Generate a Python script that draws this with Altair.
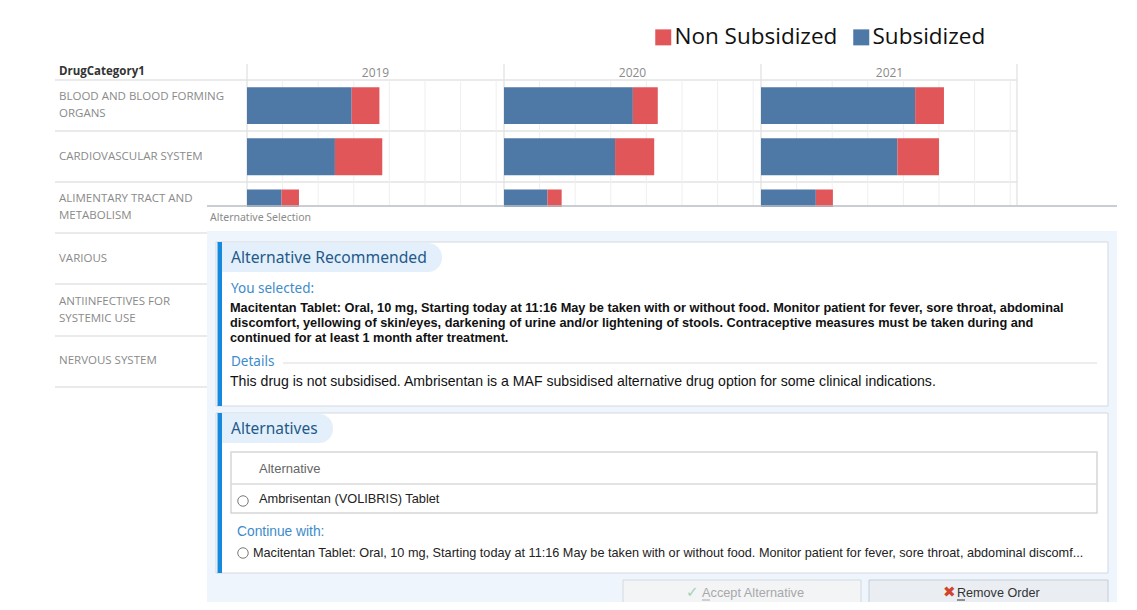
import altair as alt
import pandas as pd

# ---------------- data ----------------
categories = [
    "BLOOD AND BLOOD FORMING ORGANS",
    "CARDIOVASCULAR SYSTEM",
    "ALIMENTARY TRACT AND METABOLISM",
    "VARIOUS",
    "ANTIINFECTIVES FOR SYSTEMIC USE",
    "NERVOUS SYSTEM",
]
category_labels = [
    "BLOOD AND BLOOD FORMING\nORGANS",
    "CARDIOVASCULAR SYSTEM",
    "ALIMENTARY TRACT AND\nMETABOLISM",
    "VARIOUS",
    "ANTIINFECTIVES FOR\nSYSTEMIC USE",
    "NERVOUS SYSTEM",
]
years = ["2019", "2020", "2021"]
visible_categories = categories[:3]
subsidized_2019 = [1470, 1235, 485]
non_subsidized_2019 = [390, 665, 245]
subsidized_2020 = [1810, 1560, 610]
non_subsidized_2020 = [350, 550, 200]
subsidized_2021 = [2165, 1915, 770]
non_subsidized_2021 = [405, 585, 240]
grid_ticks = [500, 1000, 1500, 2000, 2500, 3000, 3500]
series = ["Non Subsidized", "Subsidized"]

sub = {"2019": subsidized_2019, "2020": subsidized_2020, "2021": subsidized_2021}
non = {"2019": non_subsidized_2019, "2020": non_subsidized_2020, "2021": non_subsidized_2021}
rows = []
for yr in years:
    for c, s, n in zip(visible_categories, sub[yr], non[yr]):
        rows.append({"year": yr, "cat": c, "type": "Subsidized", "value": s, "ord": 0})
        rows.append({"year": yr, "cat": c, "type": "Non Subsidized", "value": n, "ord": 1})
df = pd.DataFrame(rows)
labels_df = pd.DataFrame({"cat": categories, "label": category_labels})
ticks_df = pd.DataFrame({"t": grid_ticks})
one = pd.DataFrame({"k": [0]})

# ---------------- layout helpers ----------------
O = 8  # page margin
W, H = 1121, 594
NARROW = "Liberation Sans Narrow, Arial Narrow, Liberation Sans, sans-serif"
UI = "Noto Sans, Open Sans, sans-serif"
CHART_FONT = "Open Sans, Noto Sans, sans-serif"

yscale = alt.Scale(domain=categories, range=[80 - O, 387 - O], paddingInner=0.28, paddingOuter=0.14)
color_scale = alt.Scale(domain=series, range=["#e15759", "#4e79a7"])
panels = {"2019": (247, 504), "2020": (504, 761), "2021": (761, 1018)}
XMAX = 3610


def rect(x1, y1, x2, y2, fill, stroke=None, sw=1, **kw):
    props = dict(fill=fill)
    if stroke:
        props.update(stroke=stroke, strokeWidth=sw)
    props.update(kw)
    return alt.Chart(one).mark_rect(**props).encode(
        x=alt.value(x1 - O), x2=alt.value(x2 - O), y=alt.value(y1 - O), y2=alt.value(y2 - O)
    )


def hline(x1, x2, y, color, w=1):
    return alt.Chart(one).mark_rule(color=color, strokeWidth=w).encode(
        x=alt.value(x1 - O), x2=alt.value(x2 - O), y=alt.value(y - O)
    )


def vline(x, y1, y2, color, w=1):
    return alt.Chart(one).mark_rule(color=color, strokeWidth=w).encode(
        x=alt.value(x - O), y=alt.value(y1 - O), y2=alt.value(y2 - O)
    )


def text(s, x, y, size, color, font=NARROW, weight="normal", align="left"):
    return alt.Chart(one).mark_text(
        text=s, align=align, baseline="middle", fontSize=size, color=color, font=font, fontWeight=weight
    ).encode(x=alt.value(x - O), y=alt.value(y - O))


def radio(x, y):
    return alt.Chart(one).mark_point(
        shape="circle", filled=False, stroke="#7a7a7a", strokeWidth=1, size=110, opacity=1
    ).encode(x=alt.value(x - O), y=alt.value(y - O))


layers = [rect(O - 3, O - 3, W + O + 3, H + O + 3, "#ffffff")]

# ---------------- chart background structure ----------------
for yv in [80, 131, 182, 233, 284, 336, 387]:
    layers.append(hline(55, 1017, yv, "#e3e3e3", 1.5))

for yr in years:
    x0, x1 = panels[yr]
    xs = alt.Scale(domain=[0, XMAX], range=[x0 - O, x1 - O], nice=False, zero=True)
    layers.append(
        alt.Chart(ticks_df).mark_rule(color="#efefef", strokeWidth=1).encode(
            x=alt.X("t:Q", scale=xs, axis=None), y=alt.value(80 - O), y2=alt.value(205 - O)
        )
    )

for xv in [247, 504, 761, 1017]:
    layers.append(vline(xv, 64, 205, "#e0e0e0", 1.2))

# bars
for yr in years:
    x0, x1 = panels[yr]
    xs = alt.Scale(domain=[0, XMAX], range=[x0 - O, x1 - O], nice=False, zero=True)
    bars = (
        alt.Chart(df)
        .transform_filter(alt.datum.year == yr)
        .mark_bar()
        .encode(
            x=alt.X("value:Q", scale=xs, axis=None, stack="zero"),
            y=alt.Y("cat:N", scale=yscale, axis=None),
            color=alt.Color(
                "type:N",
                scale=color_scale,
                legend=alt.Legend(
                    title=None,
                    orient="none",
                    direction="horizontal",
                    legendX=652 - O,
                    legendY=26 - O,
                    symbolType="square",
                    symbolSize=256,
                    symbolStrokeWidth=0,
                    labelFontSize=22.5,
                    labelFont="Open Sans",
                    labelColor="#111111",
                    labelOffset=0,
                    columnPadding=12,
                    padding=0,
                    labelLimit=400,
                ),
            ),
            order=alt.Order("ord:Q"),
        )
    )
    layers.append(bars)
    layers.append(text(yr, (x0 + x1) / 2, 72.5, 12, "#8a8a8a", font=CHART_FONT, align="center"))

# category labels (single-line and two-line labels, both centred on their band)
label_base = alt.Chart(labels_df).transform_calculate(
    multi="indexof(datum.label, '\\n') >= 0 ? 1 : 0"
)
layers.append(
    label_base.transform_filter("datum.multi == 0")
    .mark_text(align="left", baseline="middle", fontSize=11.5, color="#8a8a8a", font=CHART_FONT)
    .encode(x=alt.value(59 - O), y=alt.Y("cat:N", scale=yscale, axis=None), text="label:N")
)
layers.append(
    label_base.transform_filter("datum.multi == 1")
    .mark_text(align="left", baseline="middle", lineBreak="\n", lineHeight=17, dy=-8.5,
               fontSize=11.5, color="#8a8a8a", font=CHART_FONT)
    .encode(x=alt.value(59 - O), y=alt.Y("cat:N", scale=yscale, axis=None), text="label:N")
)
layers.append(text("DrugCategory1", 59, 71.5, 11.5, "#333333", font=CHART_FONT, weight="bold"))

# ---------------- dialog overlay ----------------
BLUE_TXT = "#3d8bcb"
DARK_BLUE = "#24598a"
ACCENT = "#1589e0"
PILL = "#e3f0fb"

layers += [
    rect(207, 207, 1117, 231, "#ffffff"),
    hline(207, 1117, 206, "#b9bec6", 1.5),
    text("Alternative Selection", 210, 217.5, 10.5, "#8a8a8a", font=UI),
    rect(207, 231, 1117, 610, "#eef5fd"),
    # panel 1
    rect(216, 242, 1108, 406, "#ffffff", stroke="#d3d9e0", sw=1),
    rect(217.5, 242, 222, 406, ACCENT),
    rect(222, 243, 442, 272, PILL, cornerRadiusTopRight=14, cornerRadiusBottomRight=14),
    text("Alternative Recommended", 231, 257.5, 15.7, DARK_BLUE, font=UI),
    text("You selected:", 231, 289, 13.5, BLUE_TXT, font=UI),
    text("Macitentan Tablet: Oral, 10 mg, Starting today at 11:16 May be taken with or without food. "
         "Monitor patient for fever, sore throat, abdominal", 230, 308, 12.75, "#111111", weight="bold"),
    text("discomfort, yellowing of skin/eyes, darkening of urine and/or lightening of stools. "
         "Contraceptive measures must be taken during and", 230, 323, 12.75, "#111111", weight="bold"),
    text("continued for at least 1 month after treatment.", 230, 338, 12.75, "#111111", weight="bold"),
    text("Details", 231, 362, 13.5, BLUE_TXT, font=UI),
    hline(283, 1097, 363, "#dcdcdc", 1.2),
    text("This drug is not subsidised. Ambrisentan is a MAF subsidised alternative drug option for some "
         "clinical indications.", 230, 382, 14.1, "#111111"),
    # panel 2
    rect(216, 413, 1108, 573, "#ffffff", stroke="#d3d9e0", sw=1),
    rect(217.5, 413, 222, 573, ACCENT),
    rect(222, 414, 333, 443, PILL, cornerRadiusTopRight=14, cornerRadiusBottomRight=14),
    text("Alternatives", 231, 428.5, 15.5, DARK_BLUE, font=UI),
    rect(231, 452, 1097, 513, "#ffffff", stroke="#d6d6d6", sw=1.5),
    hline(231, 1097, 484, "#dadada", 1.5),
    text("Alternative", 259, 469, 13, "#666666"),
    radio(243, 501),
    text("Ambrisentan (VOLIBRIS) Tablet", 259, 499, 12.8, "#222222"),
    text("Continue with:", 237, 531.5, 13.8, BLUE_TXT),
    radio(243, 553),
    text("Macitentan Tablet: Oral, 10 mg, Starting today at 11:16 May be taken with or without food. "
         "Monitor patient for fever, sore throat, abdominal discomf...", 253, 552.5, 12.7, "#222222"),
    # buttons
    rect(623, 580, 861, 604, "#f3f4f6", stroke="#d5d8dc", sw=1),
    text("\u2713", 686, 592, 15, "#a3d2b2", font="DejaVu Sans"),
    text("Accept Alternative", 702, 592.5, 12.75, "#a8a8a8"),
    hline(702, 710, 600, "#a8a8a8", 1),
    rect(869, 580, 1108, 604, "#eaedf2", stroke="#c6ccd5", sw=1),
    text("\u2716", 943, 592, 15, "#d2432c", font="DejaVu Sans"),
    text("Remove Order", 957, 592.5, 12.6, "#333333"),
    hline(957, 965, 600, "#333333", 1),
]

chart = (
    alt.layer(*layers)
    .resolve_scale(x="independent")
    .properties(width=W, height=H, padding=0, autosize=alt.AutoSizeParams(type="none"))
    .configure_view(strokeWidth=0, stroke="transparent")
    .configure(background="#ffffff")
)

chart.save("out.html", embed_options={"renderer": "svg", "actions": False})
